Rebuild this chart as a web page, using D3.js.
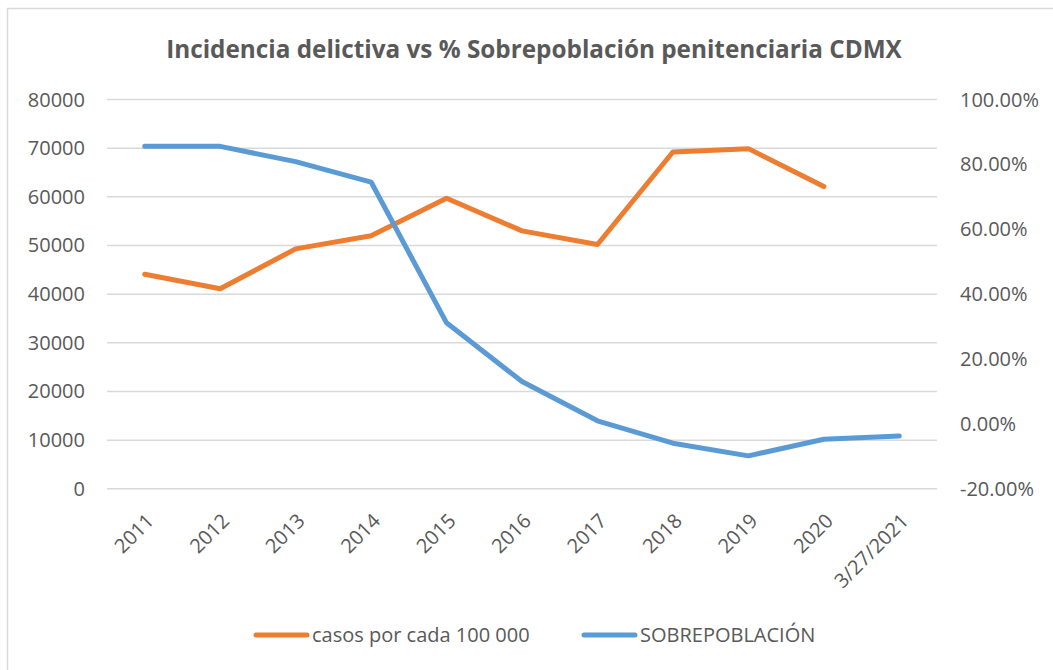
<!DOCTYPE html>
<html>
<head>
<meta charset="utf-8">
<script src="https://cdn.jsdelivr.net/npm/d3@7"></script>
<style>
  body { margin: 0; background: #fff; }
  text { font-family: "Open Sans", "Noto Sans", sans-serif; fill: #595959; }
</style>
</head>
<body>
<svg class="chart_svg" width="1053" height="670"></svg>
<script>
// data
var categories = ["2011", "2012", "2013", "2014", "2015", "2016", "2017", "2018", "2019", "2020", "3/27/2021"];
var casos = [44000, 41000, 49200, 51900, 59600, 52900, 50100, 69100, 69800, 62000, null];
var sobrepoblacion = [0.854, 0.854, 0.807, 0.744, 0.310, 0.129, 0.008, -0.061, -0.100, -0.049, -0.039];
var leftTicks = [0, 10000, 20000, 30000, 40000, 50000, 60000, 70000, 80000];
var rightTicks = [-0.2, 0, 0.2, 0.4, 0.6, 0.8, 1.0];
var seriesNames = ["casos por cada 100 000", "SOBREPOBLACIÓN"];
var colors = ["#ed7d31", "#5b9bd5"];

var svg = d3.select(".chart_svg"),
    plot_left = 107,
    plot_right = 937,
    plot_top = 99,
    plot_bottom = 488.3;

// chart frame
svg.append("rect")
    .attr("x", 7.5)
    .attr("y", 8.5)
    .attr("width", 1060)
    .attr("height", 680)
    .attr("fill", "none")
    .attr("stroke", "#d9d9d9")
    .attr("stroke-width", 1.5);

var x = d3.scalePoint().domain(categories).range([plot_left, plot_right]).padding(0.5);
var yLeft = d3.scaleLinear().domain([0, 80000]).range([plot_bottom, plot_top]);
var yRight = d3.scaleLinear().domain([-0.2, 1.0]).range([plot_bottom, plot_top]);

// left axis + gridlines
var gLeft = svg.append("g")
    .attr("transform", "translate(" + plot_left + ",0)")
    .call(d3.axisLeft(yLeft).tickValues(leftTicks).tickFormat(d3.format("d"))
        .tickSize(-(plot_right - plot_left)).tickPadding(22));
gLeft.select(".domain").remove();
gLeft.selectAll("line").attr("stroke", "#d9d9d9").attr("stroke-width", 1.5);
gLeft.selectAll("text").style("font-size", "20px").attr("dy", "0.35em");

// right axis
var pct = d3.format(".2%");
var gRight = svg.append("g")
    .attr("transform", "translate(" + plot_right + ",0)")
    .call(d3.axisRight(yRight).tickValues(rightTicks)
        .tickFormat(function (d) { return pct(d).replace("\u2212", "-"); })
        .tickSize(0).tickPadding(23));
gRight.select(".domain").remove();
gRight.selectAll("text").style("font-size", "20px").attr("dy", "0.35em");

// category axis
var gBottom = svg.append("g")
    .attr("transform", "translate(0," + plot_bottom + ")")
    .call(d3.axisBottom(x).tickSize(0));
gBottom.select(".domain").remove();
gBottom.selectAll("text")
    .style("font-size", "20px")
    .attr("text-anchor", "end")
    .attr("dy", "0.35em")
    .attr("transform", "translate(5,29) rotate(-45)")
    .attr("x", 0).attr("y", 0);

// lines
function draw_line(values, color, scale) {
    var line = d3.line()
        .defined(function (d) { return d != null; })
        .x(function (d, i) { return x(categories[i]); })
        .y(function (d) { return scale(d); });
    svg.append("path")
        .datum(values)
        .attr("d", line)
        .attr("fill", "none")
        .attr("stroke", color)
        .attr("stroke-width", 5)
        .attr("stroke-linecap", "round")
        .attr("stroke-linejoin", "round");
}
draw_line(casos, colors[0], yLeft);
draw_line(sobrepoblacion, colors[1], yRight);

// title, font sized to the reference width
var title = svg.append("text")
    .text("Incidencia delictiva vs % Sobrepoblación penitenciaria CDMX")
    .attr("x", 534)
    .attr("y", 58)
    .attr("text-anchor", "middle")
    .style("font-weight", "bold")
    .style("font-size", "24px");
var tw = title.node().getComputedTextLength();
title.style("font-size", (24 * 736 / tw) + "px");

// legend
var legendX = [254, 582];
seriesNames.forEach(function (name, i) {
    var lg = svg.append("g").attr("transform", "translate(" + legendX[i] + ",635)");
    lg.append("line")
        .attr("x1", 2).attr("x2", 53)
        .attr("y1", 0).attr("y2", 0)
        .attr("stroke", colors[i])
        .attr("stroke-width", 5)
        .attr("stroke-linecap", "round");
    lg.append("text")
        .text(name)
        .attr("x", 58)
        .attr("dy", "0.35em")
        .style("font-size", "20px");
});
</script>
</body>
</html>
